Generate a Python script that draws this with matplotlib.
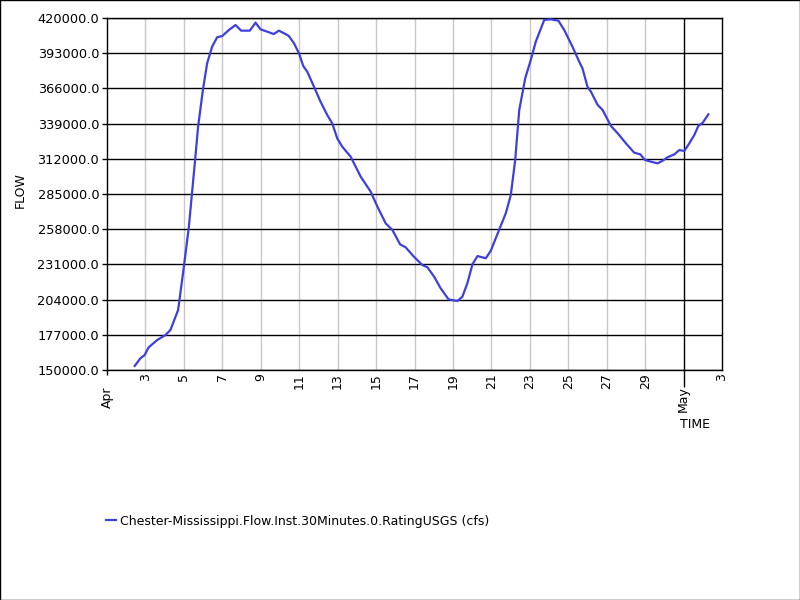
import datetime as dt

import matplotlib
matplotlib.use("Agg")
import matplotlib.pyplot as plt
from matplotlib.patches import Rectangle


START = dt.datetime(2019, 4, 1)

# days since Apr 1 00:00, flow in cfs
days = [
    1.44, 1.74, 1.96, 2.17, 2.61, 3.04, 3.30, 3.70, 4.00, 4.26, 4.60, 4.74,
    4.99, 5.21, 5.47, 5.73, 6.00, 6.34, 6.69, 6.98, 7.43, 7.73, 7.99, 8.34,
    8.68, 8.94, 9.29, 9.46, 9.73, 9.99, 10.21, 10.42, 10.77, 11.11, 11.46,
    11.72, 11.98, 12.24, 12.68, 13.20, 13.72, 14.07, 14.50, 14.85, 15.25,
    15.54, 15.97, 16.41, 16.67, 17.02, 17.36, 17.77, 18.23, 18.49, 18.75,
    19.02, 19.28, 19.71, 19.97, 20.40, 20.75, 21.01, 21.24, 21.45, 21.76,
    22.05, 22.31, 22.75, 23.09, 23.49, 23.79, 24.22, 24.57, 24.74, 25.00,
    25.18, 25.53, 25.79, 26.22, 26.57, 27.00, 27.43, 27.75, 27.99, 28.30,
    28.65, 28.91, 29.17, 29.52, 29.78, 30.04, 30.30, 30.56, 30.77, 31.00,
    31.29,
]
flow = [
    153100, 159000, 161500, 167400, 173000, 176800, 180700, 196000, 229200,
    259900, 313600, 336600, 364800, 385200, 398000, 405200, 406200, 410800,
    414600, 410300, 410300, 416400, 411300, 409500, 407700, 410300, 407700,
    406200, 400600, 392900, 383200, 378800, 367300, 355800, 345600, 339200,
    327700, 321300, 313600, 298300, 286800, 275300, 262500, 257400, 246400,
    244100, 236900, 230500, 228800, 221600, 212700, 204200, 202900, 206200,
    216500, 231300, 237400, 235700, 241500, 257400, 270200, 284200, 311100,
    349400, 373700, 387800, 401800, 418500, 419000, 417900, 410800, 398000,
    386500, 381400, 367300, 363500, 353300, 349400, 337200, 331600, 323900,
    316700, 315400, 311100, 309800, 308500, 310500, 313200, 315400, 318700,
    318000, 323900, 330300, 337200, 339700, 346100,
]

y_ticks = [150000, 177000, 204000, 231000, 258000, 285000, 312000, 339000,
           366000, 393000, 420000]
day_ticks = [dt.datetime(2019, 4, d) for d in range(3, 30, 2)] + [dt.datetime(2019, 5, 3)]
month_ticks = [dt.datetime(2019, 4, 1), dt.datetime(2019, 5, 1)]
month_labels = ["Apr", "May"]
series_name = "Chester-Mississippi.Flow.Inst.30Minutes.0.RatingUSGS (cfs)"

plt.rcParams["font.family"] = "DejaVu Sans"
FS = 9

times = [START + dt.timedelta(days=d) for d in days]

fig = plt.figure(figsize=(8, 6), dpi=100)
ax = fig.add_axes([107 / 800, 1 - 370 / 600, 615 / 800, 352 / 600])

# light vertical grid at labelled days, black line at month start
for t in day_ticks[:-1]:
    ax.axvline(t, color="#c8c8c8", lw=1, zorder=1)
ax.axvline(month_ticks[1], color="black", lw=1, zorder=1)
for v in y_ticks:
    ax.axhline(v, color="black", lw=1, zorder=1)

line, = ax.plot(times, flow, color="#3f3fdc", lw=1.6, zorder=3, label=series_name)

ax.set_xlim(dt.datetime(2019, 4, 1), dt.datetime(2019, 5, 3))
ax.set_ylim(150000, 420000)
ax.set_yticks(y_ticks)
ax.set_yticklabels([f"{v:.1f}" for v in y_ticks], fontsize=9.3)
ax.tick_params(axis="y", length=3.6, width=1, pad=2, color="black")

ax.set_xticks(day_ticks)
ax.set_xticklabels([str(t.day) for t in day_ticks], rotation=90, fontsize=FS)
ax.tick_params(axis="x", which="major", length=0, pad=2)
ax.set_xticks(month_ticks, minor=True)
ax.set_xticklabels(month_labels, minor=True, rotation=90, fontsize=FS)
ax.tick_params(axis="x", which="minor", length=3.6, width=1, pad=8, color="black")
ax.xaxis.get_minor_ticks()[1].tick1line.set_markersize(12)

for s in ax.spines.values():
    s.set_color("black")
    s.set_linewidth(1)

fig.text(20 / 800, 1 - 190 / 600, "FLOW", rotation=90, ha="center", va="center", fontsize=FS)
fig.text(695 / 800, 1 - 424 / 600, "TIME", ha="center", va="center", fontsize=FS)

fig.legend(handles=[line], loc="center left", bbox_to_anchor=(106 / 800, 1 - 521 / 600),
           frameon=False, fontsize=FS, handlelength=0.8, handletextpad=0.3,
           borderpad=0, borderaxespad=0)

fig.patches.append(Rectangle((0.0006, 0.0008), 0.9988, 0.9984, transform=fig.transFigure,
                             fill=False, edgecolor="black", lw=1))

fig.savefig("out.png", dpi=100)
